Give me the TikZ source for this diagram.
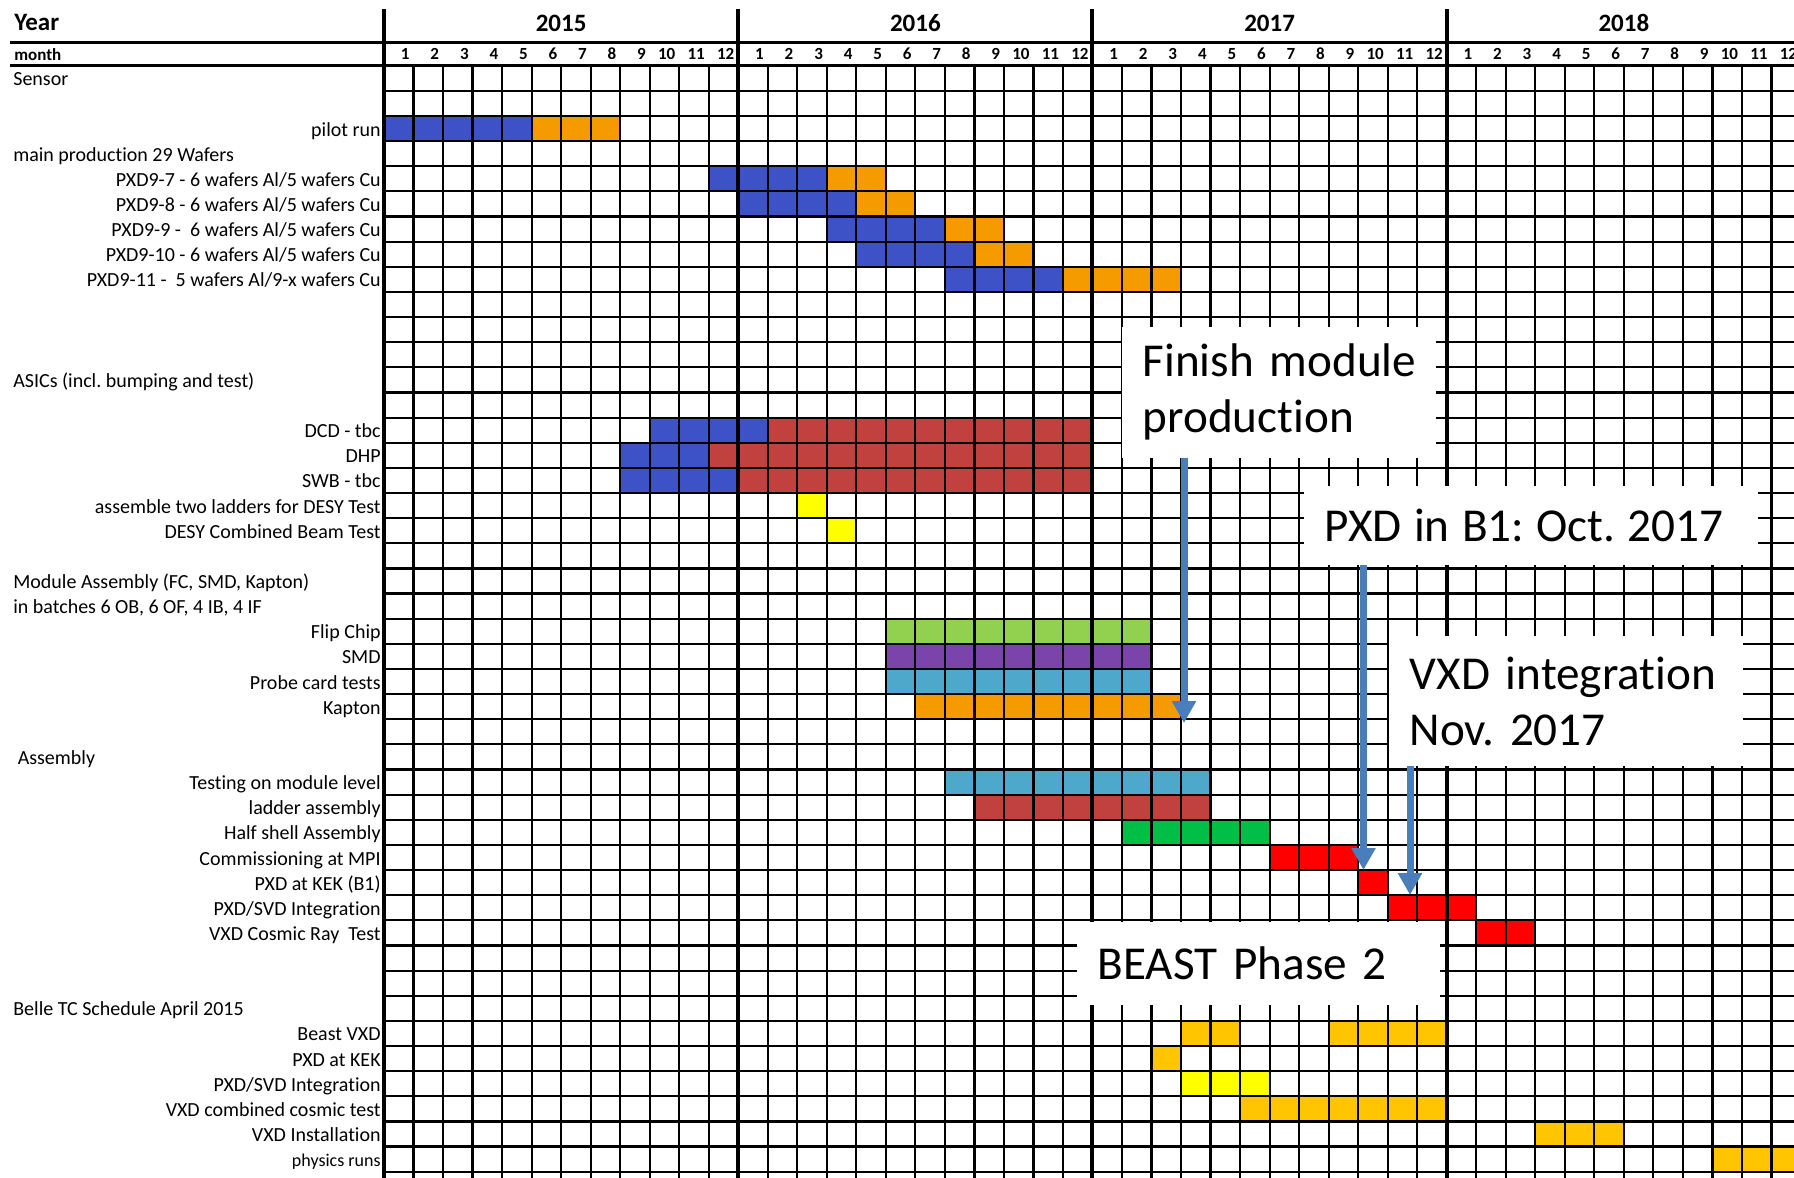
\documentclass[tikz,border=0pt]{standalone}
\usepackage{fontspec}
\setmainfont{Carlito}[Ligatures={NoCommon}]
\usetikzlibrary{arrows.meta}
\definecolor{cblue}{RGB}{62,82,200}
\definecolor{corange}{RGB}{245,155,0}
\definecolor{cred}{RGB}{192,65,61}
\definecolor{cgreen}{RGB}{146,208,80}
\definecolor{cpurple}{RGB}{123,68,170}
\definecolor{clblue}{RGB}{78,168,204}
\definecolor{chgreen}{RGB}{0,190,70}
\definecolor{cbred}{RGB}{255,0,0}
\definecolor{cyellow}{RGB}{255,255,0}
\definecolor{cgold}{RGB}{255,197,0}
\definecolor{arrowblue}{RGB}{74,126,187}
\newcommand\gbar[4]{\fill[#4] (#2,#1-1) rectangle ++(#3,1);}
\newcommand\labrgt[3]{\node[lbl,anchor=base east] (#1) at (-0.1,#2-0.2) {#3};}
\newcommand\lablft[3]{\node[lbl,anchor=base west] (#1) at (-12.57,#2-0.2) {#3};}
\frenchspacing
\begin{document}
\begin{tikzpicture}[x=0.5pt,y=-0.5pt,
  gthin/.style={line width=1.1pt,black},
  gthick/.style={line width=2pt,black},
  hdrline/.style={line width=1.6pt,black},
  lbl/.style={font=\fontsize{10pt}{12pt}\selectfont,inner sep=0pt},
  mon/.style={font=\fontsize{8.5pt}{10pt}\selectfont\bfseries,inner sep=0pt},
  yr/.style={font=\fontsize{12.5pt}{14pt}\selectfont\bfseries,inner sep=0pt},
  note/.style={fill=white,inner xsep=10.5pt,inner ysep=0pt,align=left,
    font=\fontsize{23.6pt}{28pt}\selectfont},
  arrowline/.style={draw=arrowblue,line width=3.5pt,-{Triangle[width=11.5pt,length=11pt]}}]
\useasboundingbox (0,0) rectangle (1794,1178);
\fill[white] (0,0) rectangle (1794,1178);
\begin{scope}
\clip (0,0) rectangle (1794,1178);
\begin{scope}[xshift=192pt,yshift=-32.85pt,x={(14.76pt,0pt)},y={(0pt,-12.568pt)}]
% bars
\gbar{3}{0}{5}{cblue}\gbar{3}{5}{3}{corange}
\gbar{5}{11}{4}{cblue}\gbar{5}{15}{2}{corange}
\gbar{6}{12}{4}{cblue}\gbar{6}{16}{2}{corange}
\gbar{7}{15}{4}{cblue}\gbar{7}{19}{2}{corange}
\gbar{8}{16}{4}{cblue}\gbar{8}{20}{2}{corange}
\gbar{9}{19}{4}{cblue}\gbar{9}{23}{4}{corange}
\gbar{15}{9}{4}{cblue}\gbar{15}{13}{11}{cred}
\gbar{16}{8}{3}{cblue}\gbar{16}{11}{13}{cred}
\gbar{17}{8}{4}{cblue}\gbar{17}{12}{12}{cred}
\gbar{18}{14}{1}{cyellow}
\gbar{19}{15}{1}{cyellow}
\gbar{23}{17}{9}{cgreen}
\gbar{24}{17}{9}{cpurple}
\gbar{25}{17}{9}{clblue}
\gbar{26}{18}{9}{corange}
\gbar{29}{19}{9}{clblue}
\gbar{30}{20}{8}{cred}
\gbar{31}{25}{5}{chgreen}
\gbar{32}{30}{3}{cbred}
\gbar{33}{33}{1}{cbred}
\gbar{34}{34}{3}{cbred}
\gbar{35}{37}{2}{cbred}
\gbar{39}{27}{2}{cgold}\gbar{39}{32}{4}{cgold}
\gbar{40}{26}{1}{cgold}
\gbar{41}{27}{3}{cyellow}
\gbar{42}{29}{7}{cgold}
\gbar{43}{39}{3}{cgold}
\gbar{44}{45}{3}{cgold}
% grid
\foreach \c in {1,...,48} \draw[gthin] (\c,0) -- (\c,44.6);
\foreach \r in {1,...,45} \draw[gthin] (0,\r) -- (48,\r);
\foreach \c in {0,12,24,36,48} \draw[gthick] (\c,-2.244) -- (\c,44.6);
% header numbers
\foreach \c in {0,...,47}{\pgfmathtruncatemacro\m{mod(\c,12)+1}
  \node[mon,anchor=base east] (m\c) at (\c+0.88,-0.227) {\m};}
\foreach \yy/\k in {2015/0,2016/1,2017/2,2018/3}
  \node[yr,anchor=base] (y\yy) at (6+12*\k,-1.38) {\yy};
% labels
\lablft{sensor}{1}{Sensor}
\labrgt{pilot}{3}{pilot run}
\lablft{mainprod}{4}{main production 29 Wafers}
\labrgt{pxda}{5}{PXD9-7 - 6 wafers Al/5 wafers Cu}
\labrgt{pxdb}{6}{PXD9-8 - 6 wafers Al/5 wafers Cu}
\labrgt{pxdc}{7}{PXD9-9 -~ 6 wafers Al/5 wafers Cu}
\labrgt{pxdd}{8}{PXD9-10 - 6 wafers Al/5 wafers Cu}
\labrgt{pxde}{9}{PXD9-11 -~ 5 wafers Al/9-x wafers Cu}
\lablft{asics}{13}{ASICs (incl. bumping and test)}
\labrgt{dcd}{15}{DCD - tbc}
\labrgt{dhp}{16}{DHP}
\labrgt{swb}{17}{SWB - tbc}
\labrgt{assemble}{18}{assemble two ladders for DESY Test}
\labrgt{desy}{19}{DESY Combined Beam Test}
\lablft{modass}{21}{Module Assembly (FC, SMD, Kapton)}
\lablft{batches}{22}{in batches 6 OB, 6 OF, 4 IB, 4 IF}
\labrgt{flip}{23}{Flip Chip}
\labrgt{smd}{24}{SMD}
\labrgt{probe}{25}{Probe card tests}
\labrgt{kapton}{26}{Kapton}
\node[lbl,anchor=base west] (assembly) at (-12.42,28-0.2) {Assembly};
\labrgt{testing}{29}{Testing on module level}
\labrgt{ladder}{30}{ladder assembly}
\labrgt{halfshell}{31}{Half shell Assembly}
\labrgt{commis}{32}{Commissioning at MPI}
\labrgt{pxdkekb}{33}{PXD at KEK (B1)}
\labrgt{pxdsvd}{34}{PXD/SVD Integration}
\labrgt{vxdcosmic}{35}{VXD Cosmic Ray~ Test}
\lablft{belle}{38}{Belle TC Schedule April 2015}
\labrgt{beast}{39}{Beast VXD}
\labrgt{pxdkek}{40}{PXD at KEK}
\labrgt{pxdsvdb}{41}{PXD/SVD Integration}
\labrgt{vxdcomb}{42}{VXD combined cosmic test}
\labrgt{vxdinst}{43}{VXD Installation}
\node[lbl,font=\fontsize{9pt}{11pt}\selectfont,anchor=base east] (physics) at (-0.1,44-0.2) {physics runs};
\end{scope}
% header lines
\draw[hdrline] (10,42.3) -- (1794,42.3);
\draw[hdrline] (10,65.7) -- (1794,65.7);
\node[yr,anchor=base west] (year) at (14,31) {Year};
\node[mon,anchor=base west] (month) at (14,60) {month};
% annotation boxes
\node[note,text width=136.15pt,minimum height=65.35pt] (fin) at (1278.85,392.35)
  {\mbox{Finish module}\\\mbox{production}};
\node[note,text width=205.9pt,minimum height=39.65pt] (pxdb1) at (1530.7,525.35)
  {\spaceskip=0.26em\mbox{PXD in B1: Oct. 2017}};
\node[note,text width=155.95pt,minimum height=65pt] (vxdint) at (1565.75,701)
  {\mbox{VXD integration}\\\mbox{Nov. 2017}};
\node[note,text width=160.65pt,minimum height=41.4pt] (beastp) at (1258.35,963.1)
  {\mbox{BEAST Phase 2}};
% arrows
\coordinate (tipA) at (1184,723);
\coordinate (tipB) at (1363.5,870);
\coordinate (tipC) at (1410,895);
\draw[arrowline] (fin.south -| tipA) -- (tipA);
\draw[arrowline] (pxdb1.south -| tipB) -- (tipB);
\draw[arrowline] (vxdint.south -| tipC) -- (tipC);
\end{scope}
\end{tikzpicture}
\end{document}
